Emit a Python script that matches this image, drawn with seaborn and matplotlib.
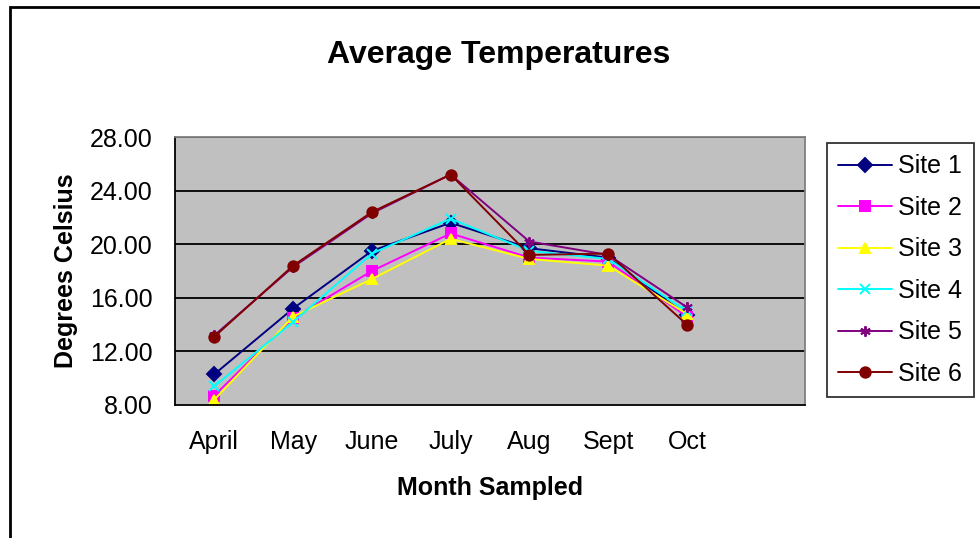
import numpy as np
import pandas as pd
import seaborn as sns
import matplotlib.pyplot as plt
from matplotlib.patches import Rectangle
from matplotlib.ticker import FixedLocator, FormatStrFormatter

# DATA
months = ['April', 'May', 'June', 'July', 'Aug', 'Sept', 'Oct']
sites = ['Site 1', 'Site 2', 'Site 3', 'Site 4', 'Site 5', 'Site 6']
site1 = [10.3, 15.2, 19.5, 21.6, 19.7, 19.0, 14.7]
site2 = [8.7, 14.5, 18.0, 20.8, 19.0, 18.7, 14.6]
site3 = [8.4, 14.6, 17.4, 20.4, 18.9, 18.4, 14.8]
site4 = [9.4, 14.2, 19.3, 21.9, 19.5, 18.9, 15.0]
site5 = [13.2, 18.3, 22.3, 25.2, 20.2, 19.2, 15.3]
site6 = [13.1, 18.4, 22.4, 25.2, 19.2, 19.3, 14.0]
y_ticks = [8, 12, 16, 20, 24, 28]

colors = {'Site 1': '#000080', 'Site 2': '#FF00FF', 'Site 3': '#FFFF00',
          'Site 4': '#00FFFF', 'Site 5': '#800080', 'Site 6': '#800000'}
markers = {'Site 1': 'D', 'Site 2': 's', 'Site 3': '^',
           'Site 4': 'x', 'Site 5': (6, 2, 0), 'Site 6': 'o'}

rows = []
for name, vals in zip(sites, [site1, site2, site3, site4, site5, site6]):
    for i, v in enumerate(vals):
        rows.append({'site': name, 'pos': i, 'temp': v})
df = pd.DataFrame(rows)

sns.set_style('white')
plt.rcParams['font.family'] = ['Liberation Sans', 'DejaVu Sans']
plt.rcParams['text.color'] = 'black'
plt.rcParams['axes.labelcolor'] = 'black'
plt.rcParams['xtick.color'] = 'black'
plt.rcParams['ytick.color'] = 'black'

fig = plt.figure(figsize=(9.8, 5.38), dpi=100)
ax = fig.add_axes([175 / 980, 1 - 405 / 538, 630 / 980, 268 / 538])
ax.set_facecolor('#C0C0C0')

# one call per site: seaborn won't mix filled and line-art markers in one style map
for name in sites:
    sub = df[df['site'] == name]
    sns.lineplot(data=sub, x='pos', y='temp', color=colors[name],
                 marker=markers[name], markersize=7.5, markeredgewidth=1.4,
                 markeredgecolor=colors[name], linewidth=1.4,
                 label=name, ax=ax)

ax.set_xlim(-0.5, 7.5)
ax.set_ylim(8, 28)
ax.set_yticks(y_ticks)
ax.yaxis.set_major_formatter(FormatStrFormatter('%.2f'))
ax.set_xticks(range(len(months)))
ax.set_xticklabels(months)
ax.xaxis.set_minor_locator(FixedLocator(np.arange(-0.5, 8, 1)))
ax.tick_params(axis='x', which='major', length=0, labelsize=18, pad=18)
ax.tick_params(axis='x', which='minor', length=7, width=1.3,
               direction='out')
ax.tick_params(axis='y', length=7, width=1.3, direction='out',
               labelsize=18, pad=9)

ax.grid(axis='y', color='black', linewidth=1.3)
for t in ax.yaxis.get_gridlines():
    if t.get_ydata()[0] in (8, 28):
        t.set_visible(False)
ax.set_axisbelow(True)

for s in ['top', 'right']:
    ax.spines[s].set_color('#808080')
    ax.spines[s].set_linewidth(1.3)
for s in ['left', 'bottom']:
    ax.spines[s].set_color('black')
    ax.spines[s].set_linewidth(1.3)

ax.set_xlabel('Month Sampled', fontsize=18, fontweight='bold', labelpad=16)
ax.set_ylabel('Degrees Celsius', fontsize=18, fontweight='bold', labelpad=9)

handles, labels = ax.get_legend_handles_labels()
ax.get_legend().remove()
leg = fig.legend(handles, labels, loc='upper left',
                 bbox_to_anchor=(827 / 980, 1 - 143 / 538),
                 fontsize=18, frameon=True, fancybox=False,
                 edgecolor='black', handlelength=2.15, labelspacing=0.7,
                 borderpad=0.45, handletextpad=0.25, borderaxespad=0)
leg.get_frame().set_linewidth(1.3)

fig.text(499 / 980, 1 - 55 / 538, 'Average Temperatures', fontsize=23,
         fontweight='bold', ha='center', va='center')

fig.patches.append(Rectangle((10 / 980, -0.1), 1.2, 1.1 - 7 / 538,
                             transform=fig.transFigure, fill=False,
                             edgecolor='black', linewidth=2))

fig.savefig('out.png', dpi=100)
